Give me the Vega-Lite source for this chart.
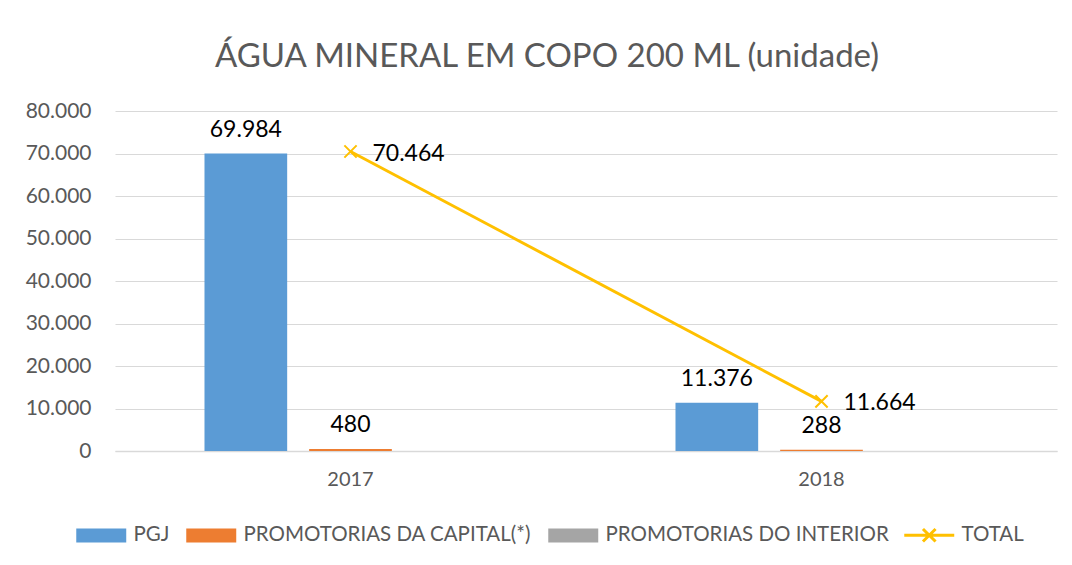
{
  "$schema": "https://vega.github.io/schema/vega-lite/v6.json",
  "autosize": {"type": "none"},
  "width": 942,
  "height": 340,
  "padding": {"left": 115, "top": 111, "right": 15, "bottom": 114},
  "background": "white",
  "config": {
    "locale": {"number": {"decimal": ",", "thousands": ".", "grouping": [3], "currency": ["R$", ""]}},
    "view": {"stroke": null},
    "font": "Lato"
  },
  "title": {
    "text": "ÁGUA MINERAL EM COPO 200 ML (unidade)",
    "font": "Lato",
    "fontSize": 33,
    "fontWeight": "normal",
    "color": "#595959",
    "anchor": "middle",
    "frame": "group",
    "dx": -39,
    "offset": 26
  },
  "datasets": {
    "barras": [
      {"ano": "2017", "serie": "PGJ", "valor": 69984},
      {"ano": "2017", "serie": "PROMOTORIAS DA CAPITAL(*)", "valor": 480},
      {"ano": "2018", "serie": "PGJ", "valor": 11376},
      {"ano": "2018", "serie": "PROMOTORIAS DA CAPITAL(*)", "valor": 288}
    ],
    "totais": [
      {"ano": "2017", "total": 70464},
      {"ano": "2018", "total": 11664}
    ]
  },
  "encoding": {
    "x": {
      "field": "ano", "type": "nominal",
      "scale": {"paddingInner": 0.38, "paddingOuter": 0.19},
      "axis": {"title": null, "labelAngle": 0, "ticks": false, "domainColor": "#D9D9D9", "domainWidth": 1.5, "labelPadding": 18, "labelFontSize": 20, "labelColor": "#595959", "labelFont": "Lato"}
    }
  },
  "layer": [
    {
      "data": {"name": "barras"},
      "mark": {"type": "bar"},
      "encoding": {
        "xOffset": {"field": "serie", "type": "nominal", "scale": {"domain": ["PGJ", "PROMOTORIAS DA CAPITAL(*)", "PROMOTORIAS DO INTERIOR"], "paddingInner": 0.21, "paddingOuter": 0}},
        "y": {
          "field": "valor", "type": "quantitative",
          "scale": {"domain": [0, 80000], "nice": false},
          "axis": {"title": null, "values": [0, 10000, 20000, 30000, 40000, 50000, 60000, 70000, 80000], "format": ",d", "domain": false, "ticks": false, "gridColor": "#D9D9D9", "gridWidth": 1.2, "labelPadding": 24, "labelFontSize": 21, "labelColor": "#595959", "labelFont": "Lato"}
        },
        "color": {
          "field": "serie", "type": "nominal",
          "scale": {"domain": ["PGJ", "PROMOTORIAS DA CAPITAL(*)", "PROMOTORIAS DO INTERIOR"], "range": ["#5B9BD5", "#ED7D31", "#A5A5A5"]},
          "legend": {
            "title": null, "orient": "none", "direction": "horizontal", "legendX": -24, "legendY": 414,
            "symbolType": "M-3.57,-1H3.57V1H-3.57Z", "symbolSize": 196, "symbolStrokeWidth": 0,
            "labelFont": "Lato", "labelFontSize": 20.5, "labelColor": "#595959", "labelOffset": 22, "columnPadding": 16, "labelLimit": 400
          }
        }
      }
    },
    {
      "data": {"name": "barras"},
      "mark": {"type": "text", "baseline": "bottom", "dy": -12, "fontSize": 23, "font": "Lato", "color": "#000000"},
      "encoding": {
        "xOffset": {"field": "serie", "type": "nominal"},
        "y": {"field": "valor", "type": "quantitative"},
        "text": {"field": "valor", "type": "quantitative", "format": ",d"}
      }
    },
    {
      "data": {"name": "totais"},
      "mark": {"type": "line", "strokeWidth": 3},
      "encoding": {
        "y": {"field": "total", "type": "quantitative"},
        "stroke": {
          "datum": "TOTAL",
          "scale": {"domain": ["TOTAL"], "range": ["#FFC000"]},
          "legend": {
            "title": null, "orient": "none", "direction": "horizontal", "legendX": 804, "legendY": 414,
            "symbolType": "M-3.57,0H3.57M-0.9,-0.9L0.9,0.9M-0.9,0.9L0.9,-0.9", "symbolSize": 196, "symbolStrokeWidth": 3, "symbolFillColor": "transparent",
            "labelFont": "Lato", "labelFontSize": 20.5, "labelColor": "#595959", "labelOffset": 22
          }
        }
      }
    },
    {
      "data": {"name": "totais"},
      "mark": {"type": "point", "shape": "M-1,-1L1,1M-1,1L1,-1", "filled": false, "size": 150, "strokeWidth": 2, "color": "#FFC000", "opacity": 1},
      "encoding": {
        "y": {"field": "total", "type": "quantitative"}
      }
    },
    {
      "data": {"name": "totais"},
      "mark": {"type": "text", "align": "left", "baseline": "middle", "dx": 22, "dy": 2, "fontSize": 23, "font": "Lato", "color": "#000000"},
      "encoding": {
        "y": {"field": "total", "type": "quantitative"},
        "text": {"field": "total", "type": "quantitative", "format": ",d"}
      }
    }
  ]
}
